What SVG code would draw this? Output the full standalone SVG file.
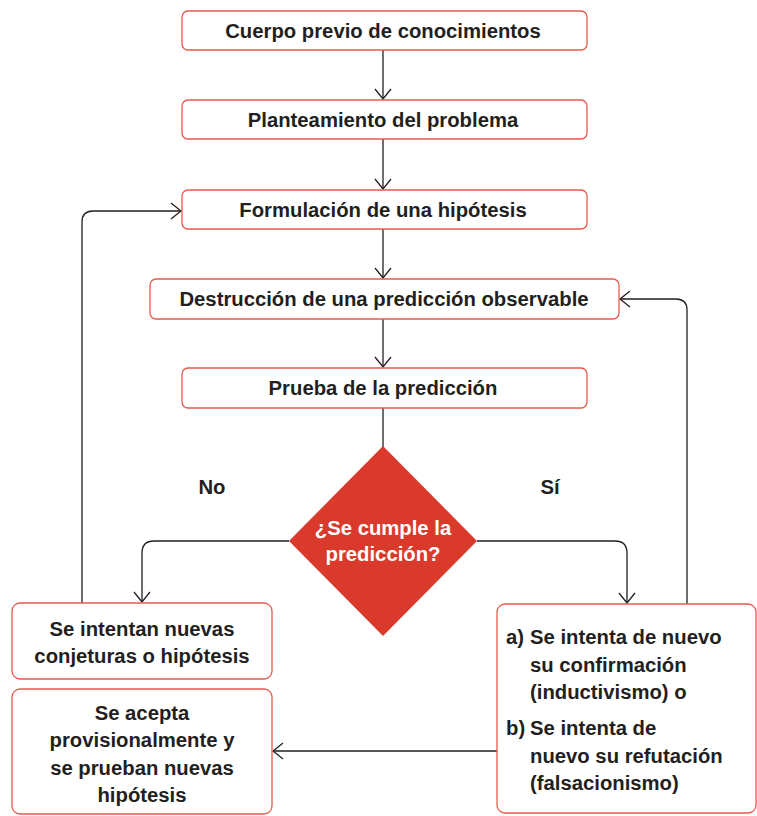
<svg xmlns="http://www.w3.org/2000/svg" width="757" height="816" viewBox="0 0 757 816">
<style>
.box{fill:#fff;stroke:#e85a4c;stroke-width:1.3}
.t{font-family:"Liberation Sans",Arial,sans-serif;font-weight:bold;font-size:20.3px;fill:#231f20}
.c{text-anchor:middle}
.w{fill:#fff}
.con{fill:none;stroke:#231f20;stroke-width:1.3}
</style>
<defs>
<marker id="ah" viewBox="0 0 12 18" refX="11" refY="9" markerWidth="12" markerHeight="18" markerUnits="userSpaceOnUse" orient="auto">
<path d="M1,1 L11,9 L1,17" fill="none" stroke="#231f20" stroke-width="1.3"/>
</marker>
</defs>
<rect width="757" height="816" fill="#fff"/>
<g id="connectors">
<path class="con" d="M383,50 V99" marker-end="url(#ah)"/>
<path class="con" d="M383,139 V189" marker-end="url(#ah)"/>
<path class="con" d="M383,229 V278" marker-end="url(#ah)"/>
<path class="con" d="M383,319 V367" marker-end="url(#ah)"/>
<path class="con" d="M383,408 V447"/>
<path class="con" d="M289,541 H154 Q142,541 142,553 V602" marker-end="url(#ah)"/>
<path class="con" d="M477,541 H615 Q627,541 627,553 V603" marker-end="url(#ah)"/>
<path class="con" d="M82,603 V222 Q82,211 93,211 H181" marker-end="url(#ah)"/>
<path class="con" d="M687,604 V310 Q687,299 676,299 H620" marker-end="url(#ah)"/>
<path class="con" d="M497,751 H273" marker-end="url(#ah)"/>
</g>
<g id="n1"><rect class="box" x="182" y="11" width="405" height="39" rx="6"/><text class="t c" x="383" y="37.5">Cuerpo previo de conocimientos</text></g>
<g id="n2"><rect class="box" x="182" y="100" width="405" height="39" rx="6"/><text class="t c" x="383" y="126.5">Planteamiento del problema</text></g>
<g id="n3"><rect class="box" x="182" y="190" width="405" height="39" rx="6"/><text class="t c" x="383" y="216.5">Formulación de una hipótesis</text></g>
<g id="n4"><rect class="box" x="150" y="279" width="469" height="40" rx="6"/><text class="t c" x="384" y="306">Destrucción de una predicción observable</text></g>
<g id="n5"><rect class="box" x="182" y="368" width="405" height="40" rx="6"/><text class="t c" x="383" y="395">Prueba de la predicción</text></g>
<g id="decision"><path d="M383,446 L477,541 L383,636 L289,541 Z" fill="#d93a2b"/><text class="t c w" x="383" y="535">¿Se cumple la</text><text class="t c w" x="383" y="561">predicción?</text></g>
<g id="lbl-no"><text class="t c" x="212" y="494">No</text></g>
<g id="lbl-si"><text class="t c" x="550" y="494">Sí</text></g>
<g id="n6"><rect class="box" x="12" y="603" width="260" height="76" rx="8"/><text class="t c" x="142" y="636">Se intentan nuevas</text><text class="t c" x="142" y="663">conjeturas o hipótesis</text></g>
<g id="n7"><rect class="box" x="12" y="689" width="260" height="125" rx="8"/><text class="t c" x="142" y="719.5">Se acepta</text><text class="t c" x="142" y="747">provisionalmente y</text><text class="t c" x="142" y="774.5">se prueban nuevas</text><text class="t c" x="142" y="802">hipótesis</text></g>
<g id="n8"><rect class="box" x="497" y="604" width="259" height="209" rx="8"/>
<text class="t" x="506" y="643.5">a)</text><text class="t" x="530" y="643.5">Se intenta de nuevo</text>
<text class="t" x="530" y="671.5">su confirmación</text>
<text class="t" x="530" y="698.5">(inductivismo) o</text>
<text class="t" x="506" y="735">b)</text><text class="t" x="530" y="735">Se intenta de</text>
<text class="t" x="530" y="763">nuevo su refutación</text>
<text class="t" x="530" y="789.5">(falsacionismo)</text></g>
</svg>
